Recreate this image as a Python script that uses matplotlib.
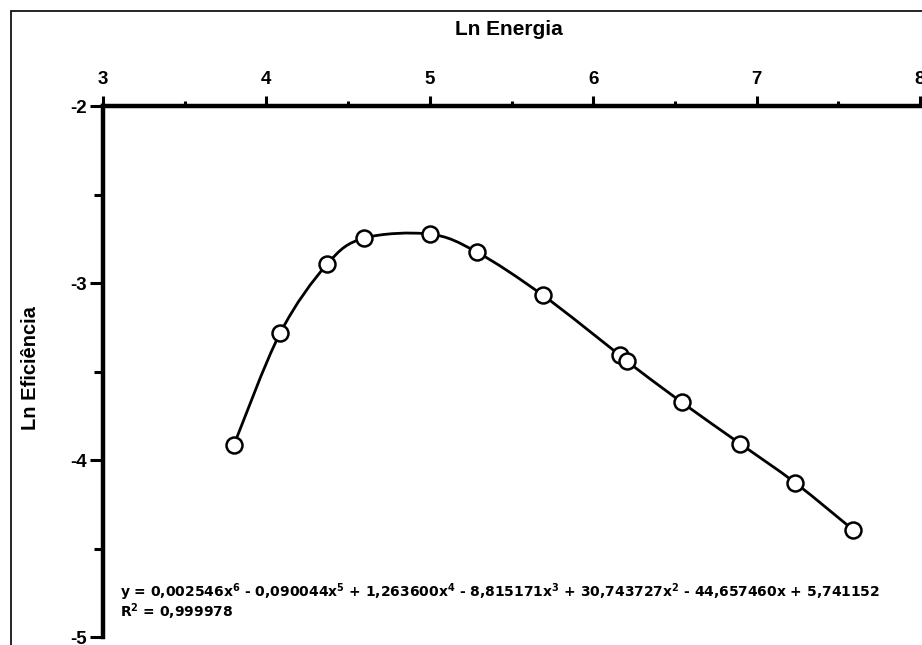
import numpy as np
import matplotlib.pyplot as plt
from matplotlib.patches import Rectangle, PathPatch
from matplotlib.path import Path

plt.rcParams['font.family'] = ['Liberation Sans', 'DejaVu Sans']
plt.rcParams['axes.unicode_minus'] = False
plt.rcParams['mathtext.default'] = 'regular'

# data
ln_energia = np.array([3.802, 4.083, 4.371, 4.597, 5.001, 5.289, 5.693,
                       6.164, 6.207, 6.543, 6.898, 7.235, 7.590])
ln_eficiencia = np.array([-3.913, -3.285, -2.894, -2.747, -2.724, -2.826, -3.070,
                          -3.409, -3.443, -3.675, -3.907, -4.128, -4.394])

eq_text = ('y = 0,002546x$^{6}$ - 0,090044x$^{5}$ + 1,263600x$^{4}$ - 8,815171x$^{3}$ '
           '+ 30,743727x$^{2}$ - 44,657460x + 5,741152')
r2_text = 'R$^{2}$ = 0,999978'


def smooth_path(x, y):
    # smooth line through the points (Catmull-Rom drawn as cubic Bezier)
    p = np.column_stack([x, y])
    ext = np.vstack([p[0], p, p[-1]])
    verts = [p[0]]
    codes = [Path.MOVETO]
    for i in range(len(p) - 1):
        a, b, c, d = ext[i], ext[i + 1], ext[i + 2], ext[i + 3]
        verts += [b + (c - a) / 6, c - (d - b) / 6, c]
        codes += [Path.CURVE4] * 3
    return Path(verts, codes)


fig = plt.figure(figsize=(9.22, 6.45), dpi=100)
ax = fig.add_axes([103 / 922, 8 / 645, 817 / 922, 531 / 645])

ax.add_patch(PathPatch(smooth_path(ln_energia, ln_eficiencia), fill=False,
                       edgecolor='black', lw=2, zorder=2))
ax.plot(ln_energia, ln_eficiencia, 'o', ms=11.5, mfc='white', mec='black', mew=1.8,
        zorder=3, clip_on=False)

ax.set_xlim(3, 8)
ax.set_ylim(-5, -2)
ax.set_xticks(np.arange(3, 8.1, 1))
ax.set_xticks(np.arange(3.5, 8, 1), minor=True)
ax.set_yticks([-5, -4, -3, -2])
ax.set_yticks([-4.5, -3.5, -2.5], minor=True)

for s in ['right', 'bottom']:
    ax.spines[s].set_visible(False)
for s in ['top', 'left']:
    ax.spines[s].set_linewidth(3.2)

ax.xaxis.tick_top()
ax.tick_params(axis='x', which='major', direction='out', length=7.5, width=2.2, pad=5.5)
ax.tick_params(axis='x', which='minor', direction='out', length=3.8, width=2.2)
ax.tick_params(axis='y', which='major', direction='out', length=9.5, width=2.2, pad=2)
ax.tick_params(axis='y', which='minor', direction='out', length=6.5, width=2.2)
for lab in ax.get_xticklabels() + ax.get_yticklabels():
    lab.set_fontweight('bold')
    lab.set_fontsize(13.5)

ax.xaxis.set_label_position('top')
ax.set_xlabel('Ln Energia', fontsize=15, fontweight='bold')
ax.xaxis.set_label_coords(0.497, 1.133)
fig.text(31 / 922, 1 - 368 / 645, 'Ln Eficiência', rotation=90, ha='center',
         va='center', fontsize=14.5, fontweight='bold')

ax.text(0.021, 0.0753, eq_text, transform=ax.transAxes, fontsize=10,
        fontweight='bold', family='Liberation Sans Narrow')
ax.text(0.021, 0.0377, r2_text, transform=ax.transAxes, fontsize=10,
        fontweight='bold', family='Liberation Sans Narrow')

# outer frame of the picture
fig.patches.append(Rectangle((11 / 922, -0.05), 1.2, 1 - 11 / 645 + 0.05,
                             transform=fig.transFigure, fill=False,
                             edgecolor='black', lw=1.2))

fig.savefig('out.png', dpi=100)
